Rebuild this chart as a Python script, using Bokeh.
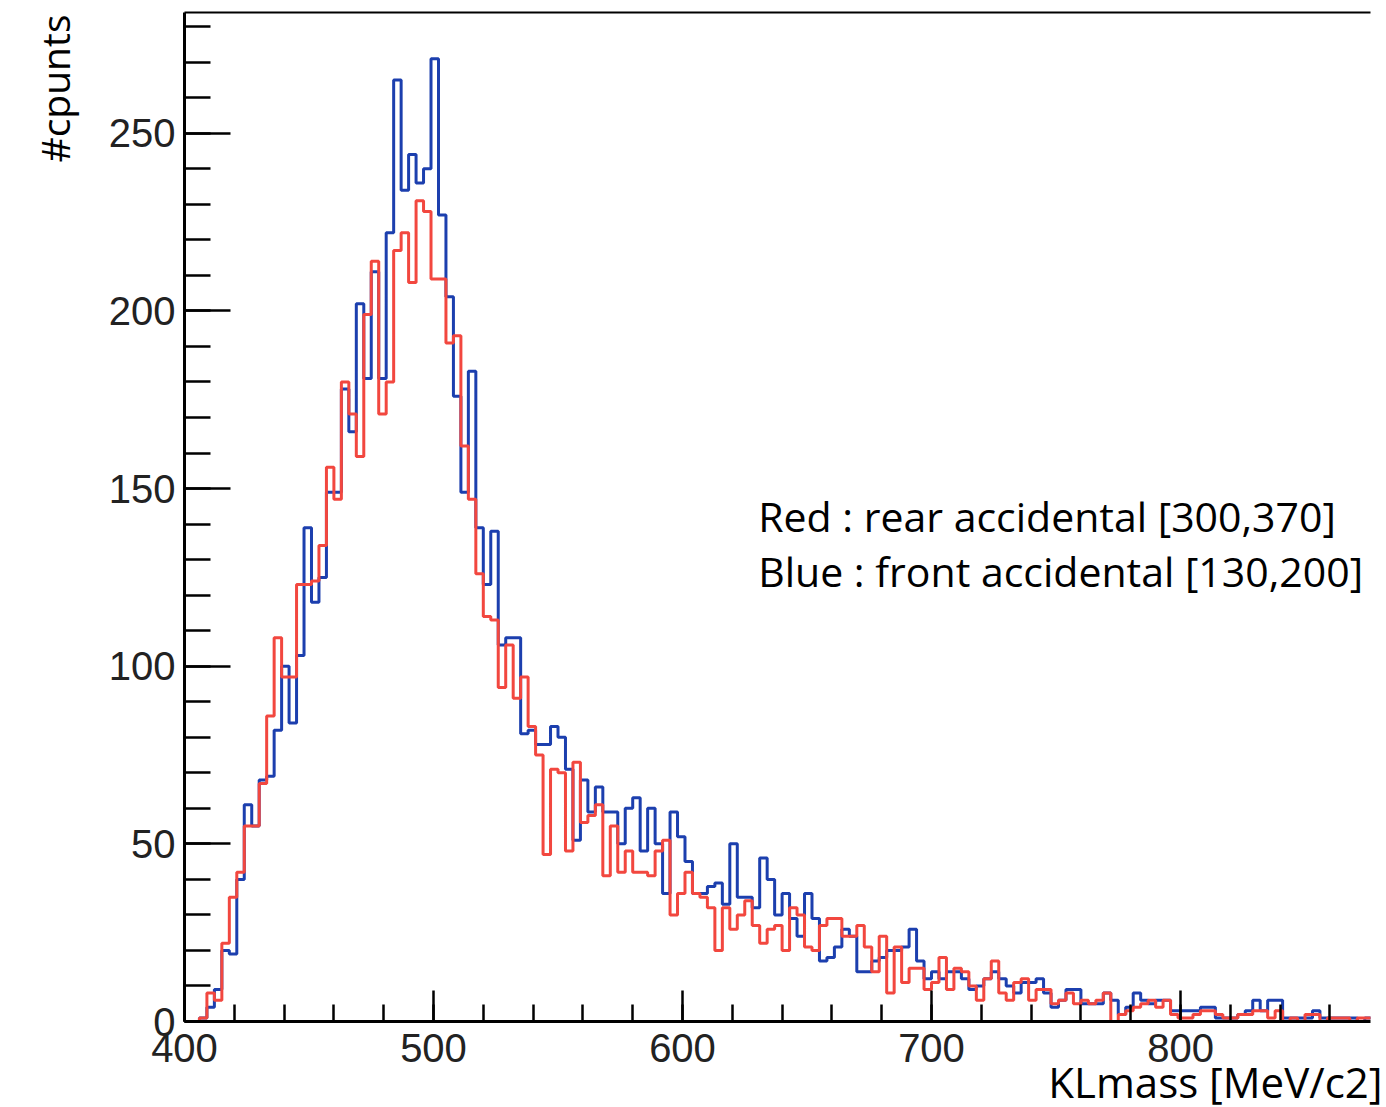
import numpy as np
from bokeh.plotting import figure
from bokeh.models import Label, LinearAxis, FixedTicker, Title
from bokeh.embed import file_html
from bokeh.resources import INLINE

# ---- data -------------------------------------------------------------
bin_low = 400.0        # MeV/c2, left edge of the first bin
bin_width = 3.0        # MeV/c2

blue_counts = [
    0, 0, 1, 4, 9, 20, 19, 40, 61, 55,
    68, 69, 82, 100, 84, 103, 139, 118, 125, 149,
    149, 178, 166, 202, 181, 211, 181, 222, 265, 234,
    244, 236, 240, 271, 227, 204, 176, 149, 183, 139,
    123, 138, 106, 108, 108, 81, 82, 78, 78, 83,
    80, 71, 51, 68, 59, 66, 59, 59, 50, 60,
    63, 48, 60, 50, 36, 59, 52, 45, 36, 36,
    38, 39, 33, 50, 35, 35, 32, 46, 40, 30,
    36, 29, 24, 36, 29, 17, 18, 21, 26, 24,
    14, 14, 17, 18, 20, 20, 21, 26, 17, 12,
    14, 12, 14, 14, 12, 9, 10, 12, 14, 12,
    10, 8, 11, 11, 12, 8, 4, 6, 9, 9,
    5, 5, 5, 8, 6, 2, 4, 8, 6, 5,
    6, 6, 3, 3, 3, 3, 4, 4, 1, 1,
    1, 2, 3, 6, 3, 6, 6, 1, 1, 1,
    1, 3, 1, 1, 1, 1, 1, 0, 1,
]

red_counts = [
    0, 0, 1, 8, 6, 22, 35, 42, 55, 55,
    67, 86, 108, 97, 97, 123, 123, 124, 134, 156,
    147, 180, 171, 159, 199, 214, 171, 180, 217, 222,
    208, 231, 228, 209, 209, 191, 193, 162, 147, 126,
    114, 113, 94, 106, 91, 97, 83, 75, 47, 71,
    70, 48, 73, 56, 58, 61, 41, 55, 42, 48,
    42, 42, 41, 48, 51, 30, 36, 42, 36, 35,
    32, 20, 32, 26, 30, 34, 27, 22, 26, 27,
    20, 32, 30, 21, 20, 27, 29, 29, 24, 24,
    27, 21, 14, 24, 8, 21, 11, 15, 15, 9,
    11, 18, 9, 15, 14, 10, 6, 12, 17, 8,
    6, 11, 12, 6, 9, 9, 5, 6, 8, 5,
    6, 5, 6, 8, 0, 2, 3, 4, 5, 6,
    4, 6, 2, 1, 1, 2, 3, 3, 2, 1,
    1, 2, 2, 3, 3, 1, 3, 0, 1, 0,
    2, 2, 0, 1, 1, 1, 0, 1, 1,
]

x_major_ticks = [400, 500, 600, 700, 800]
x_minor_ticks = list(range(400, 880, 20))
y_major_ticks = [0, 50, 100, 150, 200, 250]
y_minor_ticks = list(range(0, 290, 10))

x_title = "KLmass [MeV/c2]"
y_title = "#cpunts"
note_red = "Red : rear accidental [300,370]"
note_blue = "Blue : front accidental [130,200]"

BLUE = "#1c3fae"
RED = "#f2473f"

# ---- figure -----------------------------------------------------------
p = figure(width=1386, height=1107, x_range=(400, 876.3), y_range=(0, 284),
           output_backend="svg", toolbar_location=None,
           min_border_left=184, min_border_right=16,
           min_border_top=12, min_border_bottom=86)
p.outline_line_color = None
p.xgrid.visible = False
p.ygrid.visible = False
p.background_fill_color = "white"
p.border_fill_color = "white"

edges = bin_low + bin_width * np.arange(len(blue_counts) + 1)
blue_y = np.append(blue_counts, blue_counts[-1])
edges_r = bin_low + bin_width * np.arange(len(red_counts) + 1)
red_y = np.append(red_counts, red_counts[-1])

p.step(x=edges, y=blue_y, mode="after", line_color=BLUE, line_width=3)
p.step(x=edges_r, y=red_y, mode="after", line_color=RED, line_width=3)

tick_font = "Liberation Sans"

xa = p.xaxis[0]
xa.ticker = FixedTicker(ticks=x_major_ticks, minor_ticks=x_minor_ticks)
xa.axis_line_width = 3
xa.major_tick_in = 31
xa.major_tick_out = 0
xa.minor_tick_in = 17
xa.minor_tick_out = 0
xa.major_tick_line_width = 2.5
xa.minor_tick_line_width = 2.5
xa.major_label_text_font = tick_font
xa.major_label_text_font_size = "40px"
xa.major_label_text_color = "#222222"
xa.major_label_standoff = 12

ya = p.yaxis[0]
ya.ticker = FixedTicker(ticks=y_major_ticks, minor_ticks=y_minor_ticks)
ya.axis_line_width = 3
ya.major_tick_in = 46
ya.major_tick_out = 0
ya.minor_tick_in = 26
ya.minor_tick_out = 0
ya.major_tick_line_width = 2.5
ya.minor_tick_line_width = 2.5
ya.major_label_text_font = tick_font
ya.major_label_text_font_size = "40px"
ya.major_label_text_color = "#222222"
ya.major_label_standoff = 9

top = LinearAxis(ticker=FixedTicker(ticks=[]), axis_line_width=2,
                 major_tick_line_color=None, minor_tick_line_color=None,
                 major_label_text_font_size="0px")
p.add_layout(top, "above")

text_font = "Open Sans"

# axis titles as side-panel titles (not clipped by the frame)
xt = Title(text=x_title, align="right", text_font=text_font,
           text_font_size="42px", text_font_style="normal",
           text_color="black", offset=-12)
try:
    xt.standoff = -27
except Exception:
    xt.standoff = 0
p.add_layout(xt, "below")

yt = Title(text=y_title, align="right", text_font=text_font,
           text_font_size="39px", text_font_style="normal",
           text_color="black", offset=2)
yt.standoff = 50
p.add_layout(yt, "left")

p.add_layout(Label(x=630.4, y=142.4, text=note_red, text_font=text_font,
                   text_font_size="41px", text_color="black",
                   text_baseline="alphabetic"))
p.add_layout(Label(x=630.4, y=126.7, text=note_blue, text_font=text_font,
                   text_font_size="41px", text_color="black",
                   text_baseline="alphabetic"))

open("out.html", "w").write(file_html(p, INLINE))
